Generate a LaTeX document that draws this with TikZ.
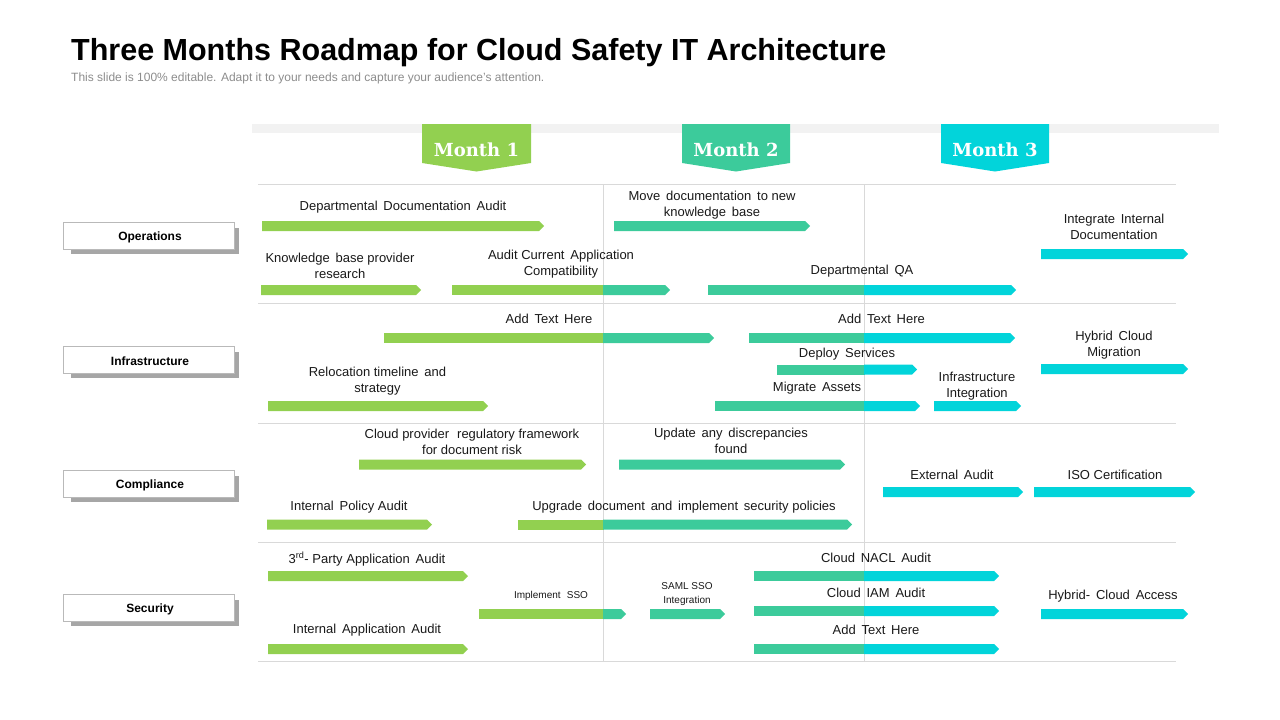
\documentclass[tikz,border=0pt]{standalone}
\usepackage{fontspec}
\setmainfont{Liberation Sans}
\newfontfamily\monthfont{DejaVu Serif}
\definecolor{cgreen}{HTML}{92D050}
\definecolor{cteal}{HTML}{3CCB9B}
\definecolor{ccyan}{HTML}{02D4DA}
\definecolor{cgrid}{HTML}{D9D9D9}
\definecolor{cband}{HTML}{F2F2F2}
\definecolor{cshadow}{HTML}{A6A6A6}
\definecolor{csub}{HTML}{8C8C8C}
\newcommand{\tipbar}[4]{\fill[#4] (#1,#3-5) -- (#2-5,#3-5) -- (#2,#3) -- (#2-5,#3+5) -- (#1,#3+5) -- cycle;}
\newcommand{\splitbar}[6]{\fill[#5] (#1,#4-5) rectangle (#2+0.5,#4+5); \tipbar{#2}{#3}{#4}{#6}}
\newcommand{\monthtag}[5]{%
  \fill[#4] (#1,124) -- (#2,124) -- (#2,163) -- ({(#1+#2)/2},171.5) -- (#1,163) -- cycle;
  \node[monthtxt] (#3) at ({(#1+#2)/2},149.5) {#5};}
\newcommand{\catlabel}[3]{%
  \fill[cshadow] (71,#2-7.5) rectangle (239,#2+18.5);
  \node[catbox] (#1) at (148.5,#2) {};
  \node[cattxt] (#1-t) at (150,#2+1.5) {#3};}
\begin{document}
\begin{tikzpicture}[x=1pt,y=-1pt,
  lbl/.style={font=\fontsize{13}{16}\selectfont, align=center, inner sep=0pt, text=black!90},
  slbl/.style={font=\fontsize{10}{13.5}\selectfont, align=center, inner sep=0pt, text=black!90},
  monthtxt/.style={font=\monthfont\bfseries\fontsize{18}{20}\selectfont, text=white, inner sep=0pt},
  catbox/.style={draw=gray!55, line width=0.6pt, fill=white, minimum width=171pt, minimum height=27pt, inner sep=0pt},
  cattxt/.style={inner sep=0pt, font=\bfseries\fontsize{12}{14}\selectfont},
  grid/.style={draw=cgrid, line width=1pt}]
\useasboundingbox (0,0) rectangle (1280,720);
% title
\node[anchor=base west, inner sep=0pt, font=\bfseries\fontsize{30.5}{34}\selectfont] (title) at (71,60) {Three Months Roadmap for Cloud Safety IT Architecture};
\node[anchor=base west, inner sep=0pt, font=\fontsize{12}{14}\selectfont, text=csub] (sub) at (71,81) {This slide is 100\% editable. Adapt it to your needs and capture your audience's attention.};
% band
\fill[cband] (252,124) rectangle (1219,133);
% grid
\foreach \yy in {184,303.5,423,542.5,661}{\draw[grid] (258,\yy) -- (1176,\yy);}
\draw[grid] (603,184) -- (603,661);
\draw[grid] (864,184) -- (864,661);
% month tags
\monthtag{422}{531}{m1}{cgreen}{Month 1}
\monthtag{682}{790}{m2}{cteal}{Month 2}
\monthtag{941}{1049}{m3}{ccyan}{Month 3}
% category labels
\catlabel{ops}{235.5}{Operations}
\catlabel{inf}{359.5}{Infrastructure}
\catlabel{com}{483.5}{Compliance}
\catlabel{sec}{607.5}{Security}
% ---------- Operations
\tipbar{262}{544}{226}{cgreen}
\node[lbl] (t1) at (403,207) {Departmental\, Documentation\, Audit};
\tipbar{614}{810}{226}{cteal}
\node[lbl] (t2) at (712,205) {Move\, documentation\, to new\\knowledge\, base};
\tipbar{261}{421}{290}{cgreen}
\node[lbl] (t3) at (340,265.5) {Knowledge\, base provider\\research};
\splitbar{452}{603}{670}{290}{cgreen}{cteal}
\node[lbl] (t4) at (561,264) {Audit Current\, Application\\Compatibility};
\splitbar{708}{864}{1016}{290}{cteal}{ccyan}
\node[lbl] (t5) at (862,271) {Departmental\, QA};
\tipbar{1041}{1188}{254}{ccyan}
\node[lbl] (t6) at (1114,227) {Integrate\, Internal\\Documentation};
% ---------- Infrastructure
\splitbar{384}{603}{714}{338}{cgreen}{cteal}
\node[lbl] (t7) at (549,319) {Add\, Text\, Here};
\tipbar{268}{488}{406}{cgreen}
\node[lbl] (t8) at (377.5,381.5) {Relocation timeline\, and\\strategy};
\splitbar{749}{864}{1015}{338}{cteal}{ccyan}
\node[lbl] (t9) at (881.5,319) {Add\, Text\, Here};
\splitbar{777}{864}{917}{369.5}{cteal}{ccyan}
\node[lbl] (t10) at (847,354) {Deploy\, Services};
\splitbar{715}{864}{920}{406}{cteal}{ccyan}
\node[lbl] (t11) at (817,388) {Migrate\, Assets};
\tipbar{934}{1021}{406}{ccyan}
\node[lbl] (t12) at (977,386) {Infrastructure\\Integration};
\tipbar{1041}{1188}{369}{ccyan}
\node[lbl] (t13) at (1114,345) {Hybrid\, Cloud\\Migration};
% ---------- Compliance
\tipbar{359}{586}{464.5}{cgreen}
\node[lbl] (t14) at (472,442) {Cloud provider\,\, regulatory framework\\for document risk};
\tipbar{619}{845}{464.5}{cteal}
\node[lbl] (t15) at (731,441) {Update\, any\, discrepancies\\found};
\tipbar{267}{432}{524.5}{cgreen}
\node[lbl] (t16) at (349,507) {Internal\, Policy Audit};
\splitbar{518}{603}{852}{524.5}{cgreen}{cteal}
\node[lbl] (t17) at (684,507) {Upgrade\, document\, and\, implement\, security policies};
\tipbar{883}{1023}{492}{ccyan}
\node[lbl] (t18) at (952,475) {External\, Audit};
\tipbar{1034}{1195}{492}{ccyan}
\node[lbl] (t19) at (1115,475) {ISO Certification};
% ---------- Security
\tipbar{268}{468}{576}{cgreen}
\node[lbl] (t20) at (367,559) {3\textsuperscript{rd}- Party Application\, Audit};
\tipbar{268}{468}{649}{cgreen}
\node[lbl] (t21) at (367,630) {Internal\, Application\, Audit};
\splitbar{479}{603}{626}{614}{cgreen}{cteal}
\node[slbl] (t22) at (551,596) {Implement\,\, SSO};
\tipbar{650}{725}{614}{cteal}
\node[slbl] (t23) at (687,594) {SAML SSO\\Integration};
\splitbar{754}{864}{999}{576}{cteal}{ccyan}
\node[lbl] (t24) at (876,558) {Cloud\, NACL\, Audit};
\splitbar{754}{864}{999}{611}{cteal}{ccyan}
\node[lbl] (t25) at (876,593) {Cloud\, IAM\, Audit};
\splitbar{754}{864}{999}{649}{cteal}{ccyan}
\node[lbl] (t26) at (876,630) {Add\, Text\, Here};
\tipbar{1041}{1188}{614}{ccyan}
\node[lbl] (t27) at (1113,596) {Hybrid-\, Cloud\, Access};
\end{tikzpicture}
\end{document}
